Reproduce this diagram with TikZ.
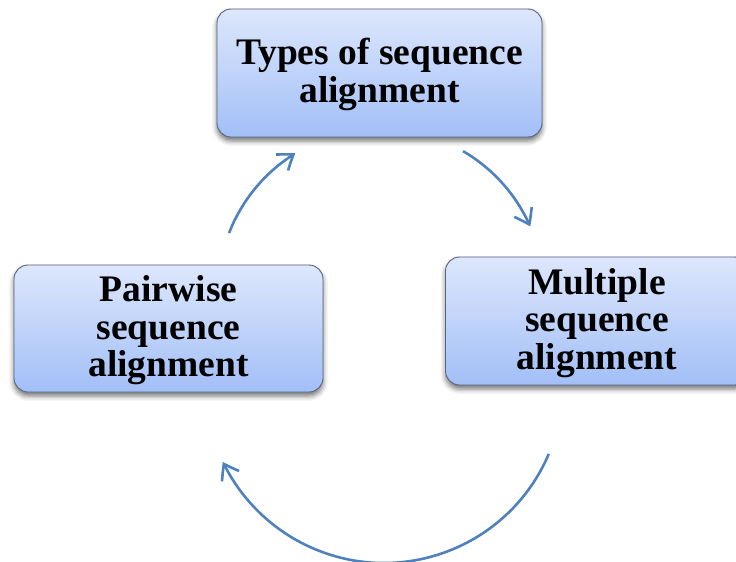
\documentclass[tikz,border=0pt]{standalone}
\usepackage{fontspec}
\setmainfont{Liberation Serif}
\usetikzlibrary{arrows.meta,shadows.blur,bending}
\definecolor{boxtop}{HTML}{DDE7FC}
\definecolor{boxbot}{HTML}{A2BFF7}
\definecolor{boxline}{HTML}{56647F}
\definecolor{cyc}{HTML}{4F81BD}
\tikzset{
  stagebox/.style={draw=boxline, line width=0.9pt, rounded corners=14pt,
    top color=boxtop, bottom color=boxbot,
    blur shadow={shadow xshift=0pt, shadow yshift=-4pt, shadow blur radius=5pt, shadow opacity=55},
    align=center, inner sep=0pt,
    font=\bfseries\fontsize{37.5}{37.5}\selectfont},
  cyclearrow/.style={draw=cyc, line width=2.6pt,
    -{Straight Barb[length=14pt,width=20pt,bend]}}
}
\begin{document}
\begin{tikzpicture}[x=1pt,y=1pt]
\useasboundingbox (0,0) rectangle (736,-562);

% the three stages of the cycle
\node[stagebox, minimum width=325pt, minimum height=128pt, text height=67pt] (types) at (379.5,-73)
  {Types of sequence\\alignment};
\node[stagebox, minimum width=309pt, minimum height=127pt, text height=105pt] (pair) at (168.5,-328.5)
  {Pairwise\\sequence\\alignment};
\node[stagebox, minimum width=303pt, minimum height=128pt, text height=105pt] (multi) at (597,-321)
  {Multiple\\sequence\\alignment};

% centres of the circular connectors
\coordinate (upc) at (381,-292);
\coordinate (lowc) at (384,-384);

% end points of the arcs
\path (upc) ++(158.8:163) coordinate (pairout);
\path (upc) ++(59.8:163) coordinate (typesout);
\path (lowc) ++(-23:179) coordinate (multiout);

% pairwise -> types
\draw[cyclearrow] (pairout) arc[start angle=158.8, end angle=121.7, radius=163];
% types -> multiple
\draw[cyclearrow] (typesout) arc[start angle=59.8, end angle=23.7, radius=163];
% multiple -> pairwise, along the bottom
\draw[cyclearrow] (multiout) arc[start angle=-23, end angle=-154.2, radius=179];
\end{tikzpicture}
\end{document}
